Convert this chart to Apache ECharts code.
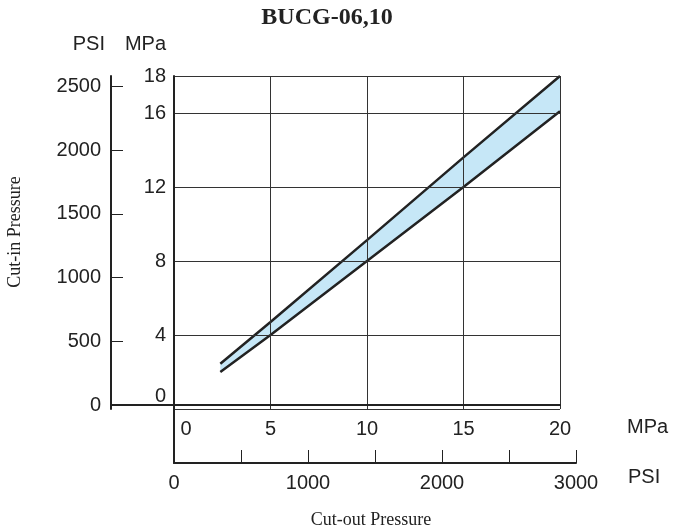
<!DOCTYPE html>
<html><head><meta charset="utf-8">
<script src="https://cdn.jsdelivr.net/npm/echarts@6/dist/echarts.min.js"></script>
<style>html,body{margin:0;padding:0;background:#fff}#c{width:673px;height:532px}</style>
</head><body><div id="c"></div>
<script>
// ---- data ----
const chartTitle = 'BUCG-06,10';
const yTitle = 'Cut-in Pressure';
const xTitle = 'Cut-out Pressure';
const psiYTicks = [0, 500, 1000, 1500, 2000, 2500];
const psiXTickMarks = [500, 1000, 1500, 2000, 2500, 3000];
const psiXLabels = [0, 1000, 2000, 3000];
// [cut-out MPa, cut-in MPa]
const lowerLine = [[2.4, 2.0], [5, 4.0], [10, 8.0], [15, 12.0], [20, 16.1]];
const upperLine = [[2.4, 2.45], [5, 4.7], [10, 9.13], [15, 13.6], [20, 18.0]];

const SANS = 'Liberation Sans';
const SERIF = 'Liberation Serif';
const INK = '#222';
const lbl = { fontFamily: SANS, fontSize: 20, color: INK };
const plain = v => String(v);

const chart = echarts.init(document.getElementById('c'), null, { renderer: 'canvas' });
chart.setOption({
  animation: false,
  backgroundColor: '#fff',
  title: {
    text: chartTitle, left: 322, top: 1, textAlign: 'center',
    textStyle: { fontFamily: SERIF, fontWeight: 'bold', fontSize: 24, color: INK }
  },
  grid: [
    { left: 174, top: 76, width: 386, height: 333 },   // plot (MPa)
    { left: 111, top: 76, width: 449, height: 333 },   // left PSI axis
    { left: 174, top: 76, width: 402, height: 387 }    // bottom PSI axis
  ],
  xAxis: [
    {
      gridIndex: 0, type: 'value', min: 0, max: 20, interval: 5, z: 3,
      name: 'MPa', nameLocation: 'end', nameGap: 67,
      nameTextStyle: { ...lbl, align: 'left', verticalAlign: 'top', lineHeight: 36 },
      axisLine: { show: false },
      axisTick: { show: false },
      axisLabel: {
        ...lbl, margin: 10,
        formatter: v => v === 0 ? '{z|0}' : String(v),
        rich: { z: { ...lbl, padding: [0, 0, 0, 24] } }
      },
      splitLine: { show: true, lineStyle: { color: '#333', width: 1 } }
    },
    {
      gridIndex: 1, type: 'value', min: 0, max: 1, z: 4,
      axisLine: { show: true, lineStyle: { color: INK, width: 2 } },
      axisTick: { show: false }, axisLabel: { show: false }, splitLine: { show: false }
    },
    {
      gridIndex: 2, type: 'value', min: 0, max: 3000, z: 4,
      name: 'PSI', nameLocation: 'end', nameGap: 52,
      nameTextStyle: { ...lbl, align: 'left', verticalAlign: 'top', lineHeight: 28 },
      axisLine: { show: true, lineStyle: { color: INK, width: 2 } },
      axisTick: { show: true, inside: true, length: 13, customValues: psiXTickMarks, lineStyle: { color: INK, width: 1 } },
      axisLabel: { ...lbl, margin: 10, customValues: psiXLabels, formatter: plain },
      splitLine: { show: false }
    }
  ],
  yAxis: [
    {
      gridIndex: 0, type: 'value', min: 0, max: 18, interval: 4, z: 3,
      name: 'MPa', nameLocation: 'end', nameGap: 22,
      nameTextStyle: { ...lbl, align: 'right', padding: [0, 8, 0, 0] },
      axisLine: { show: false },
      axisTick: { show: false },
      axisLabel: {
        ...lbl, margin: 8,
        formatter: v => v === 0 ? '{z|0}' : String(v),
        rich: { z: { ...lbl, padding: [0, 0, 26, 0] } }
      },
      splitLine: { show: true, lineStyle: { color: '#333', width: 1 } }
    },
    {
      gridIndex: 1, type: 'value', min: -30, max: 2580, position: 'left', z: 4,
      name: 'PSI', nameLocation: 'end', nameGap: 22,
      nameTextStyle: { ...lbl, align: 'right', padding: [0, 6, 0, 0] },
      axisLine: { show: true, lineStyle: { color: INK, width: 2 } },
      axisTick: { show: true, inside: true, length: 12, customValues: psiYTicks.filter(v => v > 0), lineStyle: { color: INK, width: 1 } },
      axisLabel: { ...lbl, margin: 10, customValues: psiYTicks, formatter: plain },
      splitLine: { show: false }
    },
    {
      gridIndex: 2, type: 'value', min: 0, max: 1, z: 4,
      axisLine: { show: true, lineStyle: { color: INK, width: 2 } },
      axisTick: { show: false }, axisLabel: { show: false }, splitLine: { show: false }
    }
  ],
  graphic: [
    {
      type: 'text', x: 15, y: 232, rotation: Math.PI / 2,
      style: { text: yTitle, font: '18px "Liberation Serif"', fill: INK, align: 'center', verticalAlign: 'middle' }
    },
    {
      type: 'text', x: 371, y: 520,
      style: { text: xTitle, font: '18px "Liberation Serif"', fill: INK, align: 'center', verticalAlign: 'middle' }
    }
  ],
  series: [
    {
      // shaded band between the two bounds
      type: 'custom', xAxisIndex: 0, yAxisIndex: 0, z: 1,
      data: [upperLine[0]],
      renderItem: (params, api) => {
        const pts = upperLine.map(p => api.coord(p))
          .concat(lowerLine.slice().reverse().map(p => api.coord(p)));
        return { type: 'polygon', shape: { points: pts }, style: { fill: '#c6e7f7' } };
      }
    },
    {
      type: 'line', xAxisIndex: 0, yAxisIndex: 0, data: upperLine,
      symbol: 'none', lineStyle: { color: INK, width: 2.5 }, z: 2
    },
    {
      type: 'line', xAxisIndex: 0, yAxisIndex: 0, data: lowerLine,
      symbol: 'none', lineStyle: { color: INK, width: 2.5 }, z: 2
    }
  ]
});
</script>
</body></html>
